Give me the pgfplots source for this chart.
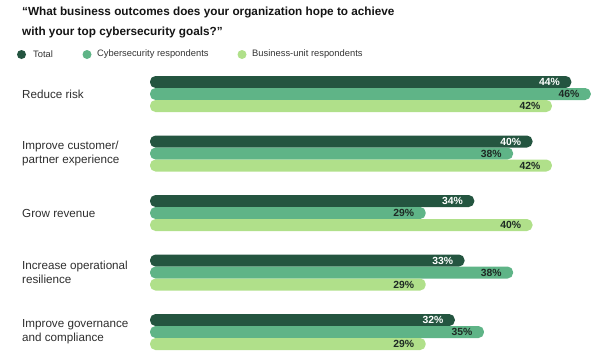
\documentclass[border=0pt]{standalone}
\usepackage{pgfplots}
\pgfplotsset{compat=1.18}
\usepackage{fontspec}
\setmainfont{Liberation Sans}
\definecolor{cdark}{HTML}{245540}
\definecolor{cmed}{HTML}{5FB487}
\definecolor{clight}{HTML}{B0E08A}
\definecolor{ctext}{HTML}{1E2A24}
\begin{document}
\begin{tikzpicture}
\useasboundingbox (0bp,0bp) rectangle (602bp,-357bp);
\node[anchor=base west, inner sep=0, font=\bfseries\fontsize{11.8}{14}\selectfont, text=black!92] at (22bp,-15.5bp)
  {“What business outcomes does your organization hope to achieve};
\node[anchor=base west, inner sep=0, font=\bfseries\fontsize{11.8}{14}\selectfont, text=black!92] at (22bp,-35bp)
  {with your top cybersecurity goals?”};
\fill[cdark] (21.5bp,-54.5bp) circle (4.5bp);
\node[anchor=west, inner sep=0, font=\fontsize{9.4}{11}\selectfont, text=black!80] at (33bp,-54.5bp) {Total};
\fill[cmed] (87bp,-54.5bp) circle (4.5bp);
\node[anchor=west, inner sep=0, font=\fontsize{9.4}{11}\selectfont, text=black!80] at (97bp,-54.5bp) {Cybersecurity respondents};
\fill[clight] (242bp,-54.5bp) circle (4.5bp);
\node[anchor=west, inner sep=0, font=\fontsize{9.4}{11}\selectfont, text=black!80] at (252bp,-54.5bp) {Business-unit respondents};
\begin{axis}[
  at={(150bp,-64.25bp)}, anchor=north west,
  scale only axis, width=449.5bp, height=288.6bp,
  xmin=0.6, xmax=46.9, ymin=-0.35, ymax=4.5,
  xbar, bar width=12bp,
  axis line style={draw=none},
  /pgf/number format/assume math mode=true,
  xtick=\empty, ytick={0,1,2,3,4},
  major tick length=0pt,
  yticklabels={{Improve governance\\and compliance},{Increase operational\\resilience},{Grow revenue},{Improve customer/\\partner experience},{Reduce risk}},
  yticklabel style={anchor=west, align=left, inner sep=0pt, xshift=-128bp, font=\fontsize{11.7}{14}\selectfont, text=black!82},
  every axis plot/.append style={draw=none, rounded corners=5.5bp},
  nodes near coords={\pgfmathprintnumber{\pgfplotspointmeta}\%},
  every node near coord/.append style={anchor=east, xshift=-8bp, font=\bfseries\fontsize{10.4}{11}\selectfont, rounded corners=0pt},
]
\addplot[fill=cdark, bar shift=12bp, every node near coord/.append style={text=white}] coordinates {(32,0) (33,1) (34,2) (40,3) (44,4)};
\addplot[fill=cmed, bar shift=0bp, every node near coord/.append style={text=ctext}] coordinates {(35,0) (38,1) (29,2) (38,3) (46,4)};
\addplot[fill=clight, bar shift=-12bp, every node near coord/.append style={text=ctext}] coordinates {(29,0) (29,1) (40,2) (42,3) (42,4)};
\end{axis}
\end{tikzpicture}
\end{document}
